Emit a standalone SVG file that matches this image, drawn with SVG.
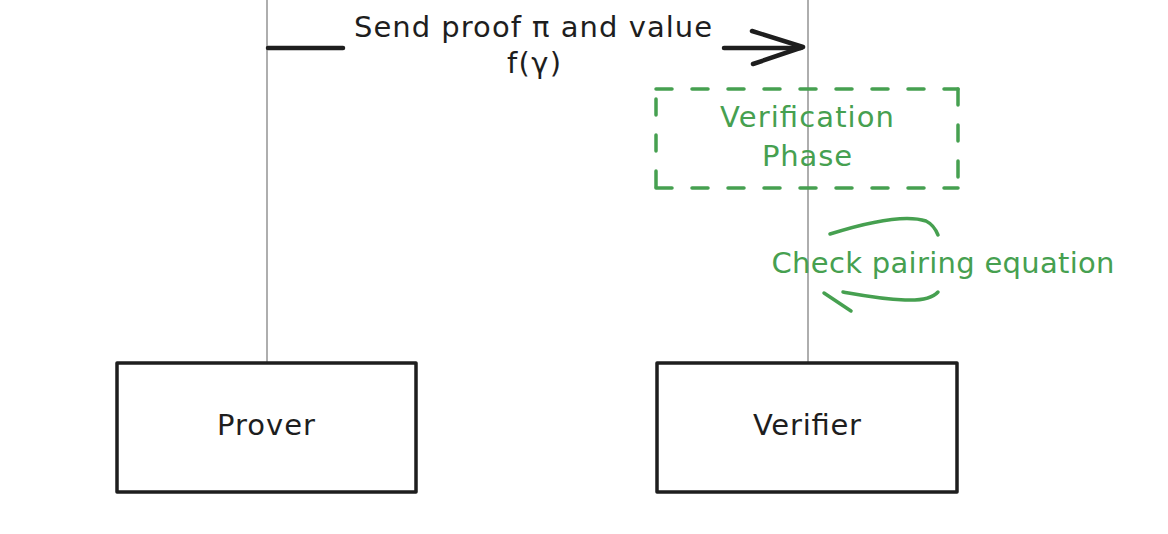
<svg xmlns="http://www.w3.org/2000/svg" width="1168" height="534" viewBox="0 0 1168 534">
  <style>
    .life { stroke: #9a9a9a; stroke-width: 1.6; fill: none; }
    .box { fill: #ffffff; stroke: #1e1e1e; stroke-width: 3.5; stroke-linejoin: round; }
    .arrow { stroke: #1e1e1e; stroke-width: 4.5; fill: none; stroke-linecap: round; stroke-linejoin: round; }
    .green { stroke: #46a050; stroke-width: 3.5; fill: none; stroke-linecap: round; }
    .dash { stroke-dasharray: 16 20; }
    .t { font-family: "DejaVu Sans", "Liberation Sans", sans-serif; font-size: 29px; text-anchor: middle; }
    .dark { fill: #1e1e1e; }
    .gt { fill: #46a050; }
  </style>

  <g id="lifelines">
    <line class="life" x1="267" y1="0" x2="267" y2="362"/>
    <line class="life" x1="808" y1="0" x2="808" y2="362"/>
  </g>

  <g id="connectors">
    <g id="send-proof">
      <line class="arrow" x1="268" y1="48" x2="343" y2="48"/>
      <line class="arrow" x1="724" y1="48" x2="801" y2="48"/>
      <polyline class="arrow" points="752,31 803,47 753,64"/>
      <text class="t dark" x="533" y="37" textLength="358" lengthAdjust="spacing">Send proof π and value</text>
      <text class="t dark" x="534" y="73" textLength="54" lengthAdjust="spacing">f(γ)</text>
    </g>
    <g id="check-pairing">
      <path class="green" d="M830,234 C 868,222 905,214 926,221 Q 934,225 938,235"/>
      <path class="green" d="M938,292 Q 930,301 905,300 C 880,299 860,295 843,292"/>
      <line class="green" x1="824" y1="293" x2="851" y2="311"/>
      <text class="t gt" x="943" y="273" textLength="343" lengthAdjust="spacing">Check pairing equation</text>
    </g>
  </g>

  <g id="verification-phase">
    <line class="green dash" x1="656" y1="89" x2="958" y2="89"/>
    <line class="green dash" x1="958" y1="89" x2="958" y2="188"/>
    <line class="green dash" x1="656" y1="99" x2="656" y2="188"/>
    <line class="green dash" x1="656" y1="188" x2="958" y2="188"/>
    <text class="t gt" x="807" y="127" textLength="174" lengthAdjust="spacing">Verification</text>
    <text class="t gt" x="807" y="166" textLength="90" lengthAdjust="spacing">Phase</text>
  </g>

  <g id="prover">
    <rect class="box" x="117" y="363" width="299" height="129"/>
    <text class="t dark" x="266" y="435" textLength="98" lengthAdjust="spacing">Prover</text>
  </g>

  <g id="verifier">
    <rect class="box" x="657" y="363" width="300" height="129"/>
    <text class="t dark" x="807" y="435" textLength="108" lengthAdjust="spacing">Verifier</text>
  </g>
</svg>
